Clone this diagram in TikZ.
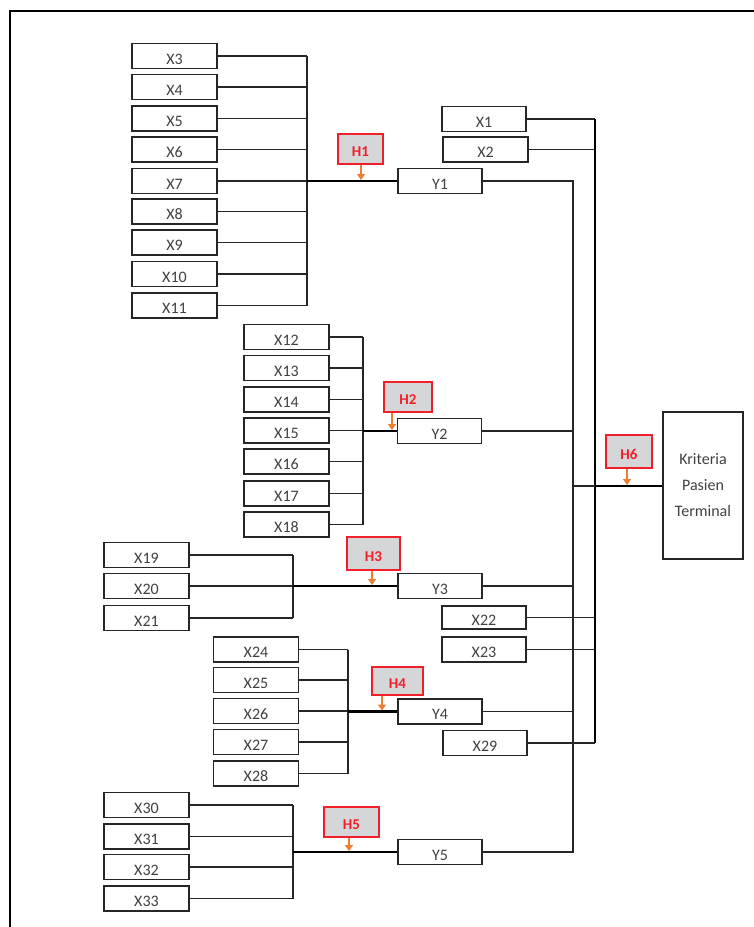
\documentclass[tikz,border=0pt]{standalone}
\usepackage{fontspec}
\setmainfont{Carlito}
\usetikzlibrary{arrows.meta}
\definecolor{hred}{HTML}{F0202A}
\definecolor{hgray}{HTML}{D4D6D8}
\definecolor{horange}{HTML}{ED7D31}
\tikzset{
  xbox/.style={draw=black!85, line width=1.3pt, fill=white, minimum width=85pt, minimum height=25pt,
    inner sep=0pt, text height=16pt, text depth=0pt, font=\fontsize{16}{18}\selectfont, text=black!75},
  ybox/.style={xbox, minimum width=84pt, minimum height=25pt},
  hbox/.style={draw=hred, line width=1.3pt, fill=hgray, minimum width=46pt, minimum height=30pt,
    inner sep=0pt, text height=15pt, text depth=0pt, text=hred, font=\fontsize{15}{17}\selectfont\bfseries},
  conn/.style={line width=1.1pt, black!85},
  busline/.style={line width=2.4pt, black},
  rbus/.style={line width=1.8pt, black},
  harrow/.style={draw=horange, line width=1.1pt, -{Triangle[length=6pt,width=8pt]}},
}
\begin{document}
\begin{tikzpicture}[x=1pt,y=-1pt]
\useasboundingbox (0,0) rectangle (754,927);
\draw[line width=2.2pt] (10,927) -- (10,11) -- (754,11);

% group 1
\foreach \n/\y in {3/56,4/87,5/118.5,6/149.5,7/181,8/211.5,9/242.5,10/274,11/305.5}
  \node[xbox] (X\n) at (174.5,\y) {X\n};
\coordinate (b1) at (307,181);
\foreach \n in {3,...,11} \draw[conn] (X\n.east) -- (X\n.east -| b1);
\draw[conn] (X3.east -| b1) -- (X11.east -| b1);

% group 2
\foreach \n/\y in {12/337,13/368,14/399.5,15/430.5,16/461.5,17/493.5,18/524.5}
  \node[xbox] (X\n) at (286.5,\y) {X\n};
\coordinate (b2) at (363,431);
\foreach \n in {12,...,18} \draw[conn] (X\n.east) -- (X\n.east -| b2);
\draw[conn] (X12.east -| b2) -- (X18.east -| b2);

% group 3
\foreach \n/\y in {19/555,20/586,21/618}
  \node[xbox] (X\n) at (146.5,\y) {X\n};
\coordinate (b3) at (293,586);
\foreach \n in {19,20,21} \draw[conn] (X\n.east) -- (X\n.east -| b3);
\draw[conn] (X19.east -| b3) -- (X21.east -| b3);

% group 4
\foreach \n/\y in {24/649.5,25/680,26/711,27/742,28/773.5}
  \node[xbox] (X\n) at (256,\y) {X\n};
\coordinate (b4) at (348,711.5);
\foreach \n in {24,...,28} \draw[conn] (X\n.east) -- (X\n.east -| b4);
\draw[conn] (X24.east -| b4) -- (X28.east -| b4);

% group 5
\foreach \n/\y in {30/805,31/836.5,32/867,33/898.5}
  \node[xbox] (X\n) at (146.5,\y) {X\n};
\coordinate (b5) at (293,852);
\foreach \n in {30,...,33} \draw[conn] (X\n.east) -- (X\n.east -| b5);
\draw[conn] (X30.east -| b5) -- (X33.east -| b5);

% Y boxes
\node[ybox] (Y1) at (440,181) {Y1};
\node[ybox] (Y2) at (439.5,431) {Y2};
\node[ybox] (Y3) at (440,586) {Y3};
\node[ybox] (Y4) at (440,711.5) {Y4};
\node[ybox] (Y5) at (440,852) {Y5};

\draw[busline] (b1) -- (Y1.west);
\draw[busline] (b2) -- (Y2.west);
\draw[busline] (b3) -- (Y3.west);
\draw[busline] (b4) -- (Y4.west);
\draw[busline] (b5) -- (Y5.west);

% right-side X boxes
\node[ybox] (X1) at (484,119) {X1};
\node[xbox] (X2) at (485.5,149.5) {X2};
\node[ybox, minimum height=23pt] (X22) at (484,617.5) {X22};
\node[ybox] (X23) at (484,649.5) {X23};
\node[ybox] (X29) at (485,743) {X29};

% Kriteria
\node[draw=black!85, line width=1.3pt, minimum width=80pt, minimum height=147pt, inner sep=0pt,
  align=center, font=\fontsize{16}{26}\selectfont, text=black!75] (K) at (703,485.5)
  {Kriteria\\Pasien\\Terminal};

% right buses
\coordinate (r1b) at (573,852);
\coordinate (r2b) at (595,743);
\draw[conn] (Y1.east) -| (r1b) -- (Y5.east);
\draw[conn] (Y2.east) -- (Y2.east -| r1b);
\draw[conn] (Y3.east) -- (Y3.east -| r1b);
\draw[conn] (Y4.east) -- (Y4.east -| r1b);
\draw[conn] (X1.east) -- (X1.east -| r2b);
\draw[conn] (X2.east) -- (X2.east -| r2b);
\draw[conn] (X22.east) -- (X22.east -| r2b);
\draw[conn] (X23.east) -- (X23.east -| r2b);
\draw[conn] (X29.east) -- (r2b);
\draw[rbus] (X1.east -| r2b) -- (r2b);
\coordinate (c6) at (573,486);
\draw[conn] (c6) -- (c6 -| r2b);
\draw[busline] (c6 -| r2b) -- (K.west |- c6);

% H boxes
\node[hbox, minimum width=45pt] (H1) at (360.5,149) {H1};
\node[hbox, minimum width=48pt] (H2) at (408,397) {H2};
\node[hbox, minimum width=53pt, minimum height=33pt] (H3) at (373.5,553.5) {H3};
\node[hbox, minimum width=51pt, minimum height=28pt] (H4) at (397.5,681) {H4};
\node[hbox, minimum width=55pt] (H5) at (351.5,822) {H5};
\node[hbox, minimum width=46pt, minimum height=33pt] (H6) at (629,451.5) {H6};

\coordinate (a1) at (361,180);
\coordinate (a2) at (392,430);
\coordinate (a3) at (372,585);
\coordinate (a4) at (382,710.5);
\coordinate (a5) at (349,851);
\coordinate (a6) at (627,485);
\draw[harrow] (H1.south -| a1) -- (a1);
\draw[harrow] (H2.south -| a2) -- (a2);
\draw[harrow] (H3.south -| a3) -- (a3);
\draw[harrow] (H4.south -| a4) -- (a4);
\draw[harrow] (H5.south -| a5) -- (a5);
\draw[harrow] (H6.south -| a6) -- (a6);
\end{tikzpicture}
\end{document}
